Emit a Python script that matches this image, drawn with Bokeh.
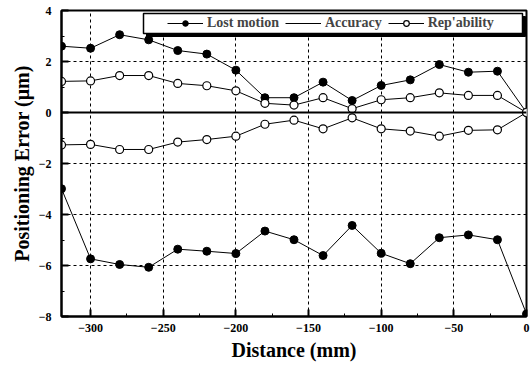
from bokeh.plotting import figure
from bokeh.models import Span, Legend, LegendItem, Range1d, FixedTicker, BoxAnnotation
from bokeh.embed import file_html
from bokeh.resources import INLINE

distance = [-320, -300, -280, -260, -240, -220, -200, -180, -160, -140, -120, -100, -80, -60, -40, -20, 0]
lost_motion = [2.6, 2.52, 3.05, 2.85, 2.43, 2.29, 1.66, 0.58, 0.58, 1.19, 0.47, 1.06, 1.28, 1.88, 1.58, 1.62, 0.0]
rep_upper = [1.22, 1.24, 1.45, 1.45, 1.14, 1.05, 0.85, 0.36, 0.29, 0.58, 0.15, 0.5, 0.58, 0.77, 0.67, 0.67, 0.0]
rep_lower = [-1.27, -1.25, -1.45, -1.45, -1.16, -1.06, -0.93, -0.46, -0.3, -0.64, -0.21, -0.64, -0.73, -0.93, -0.7, -0.68, 0.0]
accuracy = [-2.99, -5.74, -5.96, -6.07, -5.36, -5.44, -5.53, -4.65, -4.99, -5.61, -4.43, -5.52, -5.93, -4.91, -4.8, -4.99, -7.9]

x_ticks = [-300, -250, -200, -150, -100, -50, 0]
y_ticks = [-8, -6, -4, -2, 0, 2, 4]

FONT = "Liberation Serif"

p = figure(width=530, height=363, output_backend="svg", toolbar_location=None,
           x_range=Range1d(-320, 0), y_range=Range1d(-8, 4),
           min_border_left=61, min_border_right=4, min_border_top=10, min_border_bottom=47)

p.background_fill_color = "white"
p.border_fill_color = "white"
p.outline_line_color = "black"
p.outline_line_width = 2

for ax in (p.xaxis[0], p.yaxis[0]):
    ax.axis_line_width = 2
    ax.major_tick_in = 7
    ax.major_tick_out = 0
    ax.minor_tick_in = 3
    ax.minor_tick_out = 0
    ax.major_tick_line_width = 2
    ax.major_label_text_font = FONT
    ax.major_label_text_font_style = "bold"
    ax.major_label_text_font_size = "12px"
    ax.major_label_text_color = "black"
    ax.axis_label_text_font = FONT
    ax.axis_label_text_font_style = "bold"
    ax.axis_label_text_color = "black"

p.xaxis.ticker = FixedTicker(ticks=x_ticks, minor_ticks=list(range(-325, 1, 25)))
p.yaxis.ticker = FixedTicker(ticks=y_ticks, minor_ticks=list(range(-8, 5, 1)))
p.xaxis.axis_label = "Distance (mm)"
p.yaxis.axis_label = "Positioning Error (μm)"
p.xaxis.axis_label_text_font_size = "20px"
p.yaxis.axis_label_text_font_size = "20px"
p.xaxis.major_label_standoff = 7
p.yaxis.major_label_standoff = 10
p.xaxis.axis_label_standoff = 4
p.yaxis.axis_label_standoff = 3

for g in (p.xgrid[0], p.ygrid[0]):
    g.grid_line_color = "black"
    g.grid_line_dash = "3 3"
    g.grid_line_width = 1

p.add_layout(Span(location=0, dimension="width", line_color="black", line_width=2))

lm_line = p.line(distance, lost_motion, line_color="black", line_width=1)
lm_pts = p.scatter(distance, lost_motion, marker="circle", size=8, fill_color="black", line_color="black")

acc_line = p.line(distance, accuracy, line_color="black", line_width=1)
p.scatter(distance, accuracy, marker="circle", size=8, fill_color="black", line_color="black")

ru_line = p.line(distance, rep_upper, line_color="black", line_width=1)
ru_pts = p.scatter(distance, rep_upper, marker="circle", size=8, fill_color="white", line_color="black", line_width=1.2)
rl_line = p.line(distance, rep_lower, line_color="black", line_width=1)
p.scatter(distance, rep_lower, marker="circle", size=8, fill_color="white", line_color="black", line_width=1.2)

# legend frame with a drop shadow
p.add_layout(BoxAnnotation(left=146, right=525, top=16, bottom=36,
                           left_units="canvas", right_units="canvas", top_units="canvas", bottom_units="canvas",
                           fill_color="black", fill_alpha=1.0, line_color="black", line_alpha=1.0))
p.add_layout(BoxAnnotation(left=143, right=522, top=13, bottom=33,
                           left_units="canvas", right_units="canvas", top_units="canvas", bottom_units="canvas",
                           fill_color="white", fill_alpha=1.0, line_color="black", line_width=1.5, line_alpha=1.0))

legend = Legend(items=[
    LegendItem(label="Lost motion", renderers=[lm_line, lm_pts]),
    LegendItem(label="Accuracy", renderers=[acc_line]),
    LegendItem(label="Rep'ability", renderers=[ru_line, ru_pts]),
], orientation="horizontal", location=(106, 283))
legend.label_text_font = FONT
legend.label_text_font_style = "bold"
legend.label_text_font_size = "14px"
legend.glyph_width = 36
legend.glyph_height = 14
legend.label_standoff = 4
legend.label_height = 20
legend.spacing = 6
legend.padding = 0
legend.margin = 0
legend.border_line_alpha = 0
legend.background_fill_alpha = 0
p.add_layout(legend)

open("out.html", "w").write(file_html(p, INLINE))
